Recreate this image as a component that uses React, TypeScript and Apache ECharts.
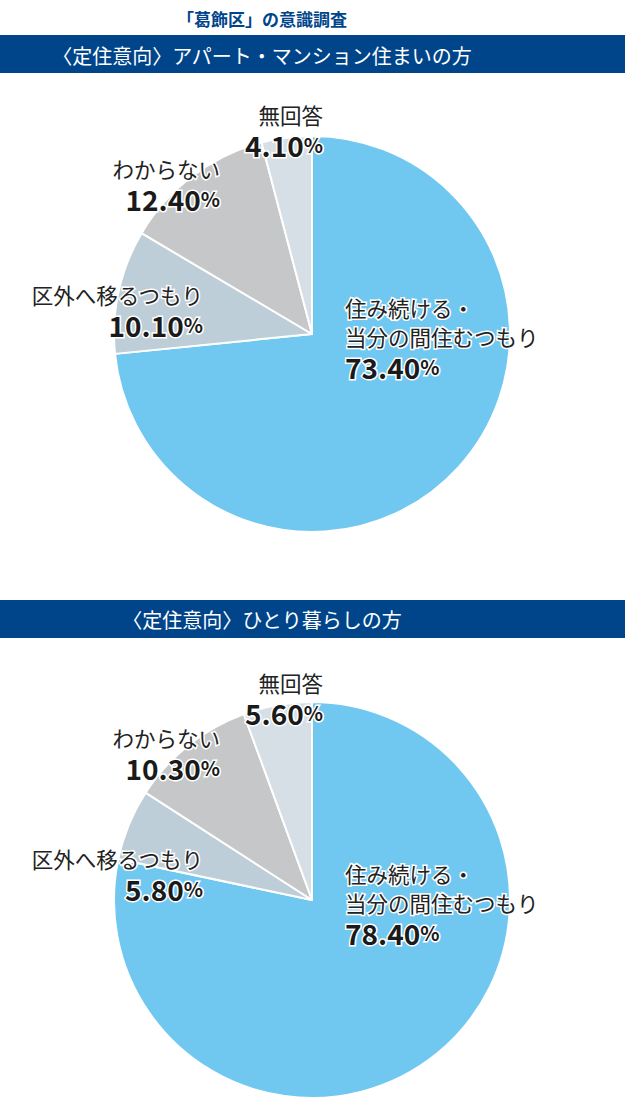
import { FC, useEffect, useRef } from "react";
import * as echarts from "echarts";

// 回答カテゴリ（円グラフの順：12時から時計回り）
const categories = [
  "住み続ける・\n当分の間住むつもり",
  "区外へ移るつもり",
  "わからない",
  "無回答",
];
// アパート・マンション住まいの方 (%)
const apartmentValues = [73.4, 10.1, 12.4, 4.1];
// ひとり暮らしの方 (%)
const singleValues = [78.4, 5.8, 10.3, 5.6];

const sliceColors = ["#70C8F1", "#BECED8", "#C6C7C9", "#D6DFE6"];

const mainTitle = "「葛飾区」の意識調査";
const sectionTitles = [
  "〈定住意向〉アパート・マンション住まいの方",
  "〈定住意向〉ひとり暮らしの方",
];

const NAVY = "#00458A";
const FONT = "'Noto Sans CJK JP', 'Noto Sans', sans-serif";

// ラベルの配置（x, 上端y）。index 0 は左揃え、他は右揃え
const labelPos = [
  [
    [345, 293],
    [203, 280],
    [220, 154],
    [323, 100],
  ],
  [
    [345, 859],
    [203, 844],
    [220, 723],
    [323, 668],
  ],
];

const App: FC = () => {
  const chartRef = useRef<HTMLDivElement>(null);

  useEffect(() => {
    document.body.style.margin = "0";
    if (!chartRef.current) return;
    const chart = echarts.init(chartRef.current, null, { renderer: "svg" });

    const halo = { textBorderColor: "#fff", textBorderWidth: 3 };
    const rich: any = {};
    (["l", "r"] as const).forEach((side) => {
      const align = side === "l" ? "left" : "right";
      rich["n" + side] = { fontSize: 21.5, lineHeight: 29, color: "#222", fontFamily: FONT, align, ...halo };
      rich["v" + side] = { fontSize: 28, lineHeight: 31, fontWeight: "bold", color: "#1a1a1a", fontFamily: FONT, align, ...halo };
      rich["p" + side] = { fontSize: 20, lineHeight: 31, fontWeight: "bold", color: "#1a1a1a", fontFamily: FONT, align, ...halo };
    });

    const makePie = (values: number[], cy: number, si: number) => ({
      type: "pie",
      center: [312, cy],
      radius: 198,
      startAngle: 90,
      clockwise: true,
      silent: true,
      itemStyle: { borderColor: "#fff", borderWidth: 2 },
      labelLine: { show: false },
      label: {
        show: true,
        position: "inside",
        overflow: "none",
        formatter: (p: any) => {
          const s = p.dataIndex === 0 ? "l" : "r";
          const lines = String(p.name).split("\n").map((t) => `{n${s}|${t}}`);
          return [...lines, `{v${s}|${Number(p.value).toFixed(2)}}{p${s}|%}`].join("\n");
        },
        rich,
      },
      labelLayout: (params: any) => {
        const [x, y] = labelPos[si][params.dataIndex];
        return { x, y, align: params.dataIndex === 0 ? "left" : "right", verticalAlign: "top" };
      },
      data: categories.map((name, i) => ({
        name,
        value: values[i],
        itemStyle: { color: sliceColors[i] },
      })),
    });

    chart.setOption({
      animation: false,
      graphic: [
        {
          type: "text",
          x: 262,
          y: 18,
          style: { text: mainTitle, fill: NAVY, font: `bold 17px ${FONT}`, align: "center", verticalAlign: "middle" },
        },
        { type: "rect", shape: { x: 0, y: 35, width: 625, height: 38 }, style: { fill: NAVY } },
        {
          type: "text",
          x: 262,
          y: 55,
          style: { text: sectionTitles[0], fill: "#fff", font: `20px ${FONT}`, align: "center", verticalAlign: "middle" },
        },
        { type: "rect", shape: { x: 0, y: 600, width: 625, height: 38 }, style: { fill: NAVY } },
        {
          type: "text",
          x: 262,
          y: 619,
          style: { text: sectionTitles[1], fill: "#fff", font: `20px ${FONT}`, align: "center", verticalAlign: "middle" },
        },
      ],
      series: [makePie(apartmentValues, 334, 0), makePie(singleValues, 900, 1)],
    });

    return () => chart.dispose();
  }, []);

  return <div ref={chartRef} style={{ width: 625, height: 1110 }} />;
};

export default App;
